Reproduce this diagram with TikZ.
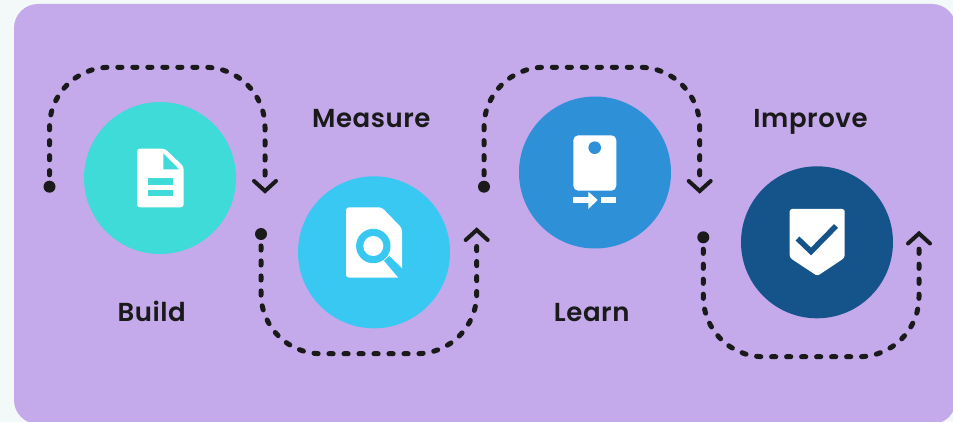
\documentclass[tikz,border=0pt]{standalone}
\usepackage{fontspec}
\setmainfont{Poppins}[BoldFont={Poppins SemiBold}]
\definecolor{pagebg}{HTML}{F3F9F8}
\definecolor{panel}{HTML}{C4A9EB}
\definecolor{inkdark}{HTML}{1A1A1A}
\definecolor{cA}{HTML}{3FDBD8}
\definecolor{cB}{HTML}{38C8F2}
\definecolor{cC}{HTML}{2E91D8}
\definecolor{cD}{HTML}{14548A}
\tikzset{
  disc/.style={circle,minimum size=152pt,inner sep=0pt,draw=none},
  dotnode/.style={circle,fill=inkdark,minimum size=12pt,inner sep=0pt,draw=none},
  flowpath/.style={draw=inkdark,line width=5pt,line cap=round,rounded corners=60pt,dash pattern=on 4.2pt off 10.8pt,dash phase=9.3pt},
  chevron/.style={draw=inkdark,line width=4pt,line cap=round,line join=miter},
  lbl/.style={font=\fontsize{26pt}{30pt}\selectfont\addfontfeature{LetterSpace=2.2}\bfseries,text=inkdark,inner sep=0pt,anchor=base}
}
\begin{document}
\begin{tikzpicture}[x=1pt,y=-1pt]
\useasboundingbox (0,0) rectangle (953,422);
\fill[pagebg] (0,0) rectangle (953,422);
\fill[panel,rounded corners=24pt] (14,4) rectangle (956,424);

% discs
\node[disc,fill=cA] (n1) at (160,178) {};
\node[disc,fill=cB] (n2) at (374,252.3) {};
\node[disc,fill=cC] (n3) at (595,172.5) {};
\node[disc,fill=cD] (n4) at (817,242.3) {};

% labels
\node[lbl] (l1) at (151.7,321.7) {Build};
\node[lbl] (l2) at (371.3,127.3) {Measure};
\node[lbl] (l3) at (591.7,321.7) {Learn};
\node[lbl] (l4) at (810.5,127.3) {Improve};

% start dots
\node[dotnode] (d1) at (49.5,186.7) {};
\node[dotnode] (d2) at (261,234) {};
\node[dotnode] (d3) at (484,186.7) {};
\node[dotnode] (d4) at (703.3,237.3) {};

% path ends (chevron tips)
\coordinate (t1) at (265,191);
\coordinate (t2) at (476.7,230);
\coordinate (t3) at (699.7,191);
\coordinate (t4) at (919,233.5);
\coordinate (e1) at (265,177);
\coordinate (e2) at (476.7,244);
\coordinate (e3) at (699.7,177);
\coordinate (e4) at (919,247);

% connectors
\coordinate (a1) at (49.5,67.3); \coordinate (b1) at (265,67.3);
\coordinate (a2) at (261,353.7); \coordinate (b2) at (476.7,353.7);
\coordinate (a3) at (484,67.3);  \coordinate (b3) at (699.7,67.3);
\coordinate (a4) at (703.3,356.7); \coordinate (b4) at (919,356.7);
\draw[flowpath] (d1.north) -- (a1) -- (b1) -- (e1);
\draw[flowpath] (d2.south) -- (a2) -- (b2) -- (e2);
\draw[flowpath] (d3.north) -- (a3) -- (b3) -- (e3);
\draw[flowpath] (d4.south) -- (a4) -- (b4) -- (e4);
\draw[chevron] (t1) ++(-11,-10) -- (t1) -- ++(11,-10);
\draw[chevron] (t3) ++(-11,-10) -- (t3) -- ++(11,-10);
\draw[chevron] (t2) ++(-11,10) -- (t2) -- ++(11,10);
\draw[chevron] (t4) ++(-11,10) -- (t4) -- ++(11,10);

% icon 1: document
\fill[white,rounded corners=3pt] (137,148.7) -- (165,148.7) -- (183.7,166.7) -- (183.7,207.3) -- (137,207.3) -- cycle;
\fill[cA] (163.3,153.3) -- (179,169.3) -- (163.3,169.3) -- cycle;
\fill[cA] (148.3,178.3) rectangle (172.7,185);
\fill[cA] (148.3,190) rectangle (172.7,196);

% icon 2: document with lens
\fill[white,rounded corners=3pt] (346,207.3) -- (381.7,207.3) -- (402,228.3) -- (402,277.7) -- (346,277.7) -- cycle;
\fill[cB] (384,260.7) -- (389.3,256) -- (403,269.3) -- (403,279) -- (399.5,279) -- cycle;
\fill[cB] (373.3,246) circle (17.2);
\fill[white] (373.3,246) circle (10);

% icon 3: device
\fill[white,rounded corners=5pt] (573.3,135.3) rectangle (616.3,190.7);
\fill[cC] (594.7,147.7) circle (6.3);
\fill[white] (573,197) rectangle (589.3,203.3);
\fill[white] (588.3,191.7) -- (597.7,200) -- (588.3,209) -- cycle;
\fill[white] (601,197) rectangle (616.3,203.3);

% icon 4: shield
\fill[white,rounded corners=2.5pt] (789.7,209) -- (844.7,209) -- (844.7,257.7) -- (817.3,276) -- (789.7,257.7) -- cycle;
\draw[cD,line width=5.5pt] (797.5,238.5) -- (811,251.5) -- (836,226);
\end{tikzpicture}
\end{document}
